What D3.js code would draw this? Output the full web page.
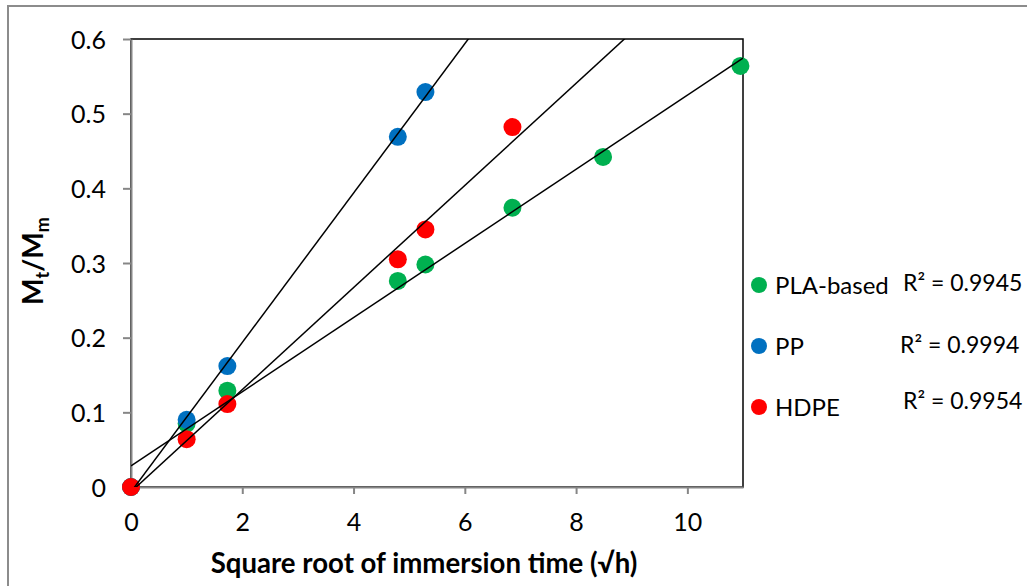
<!DOCTYPE html>
<html>
<head>
<meta charset="utf-8">
<script src="https://cdn.jsdelivr.net/npm/d3@7"></script>
<style>
  html, body { margin: 0; padding: 0; background: #fff; }
  svg { display: block; font-family: Lato, "Open Sans", sans-serif; }
</style>
</head>
<body>
<svg id="chart" width="1027" height="586"></svg>
<script>
// Sorption data: fraction of equilibrium uptake vs square root of immersion time
const seriesNames = ["PLA-based", "PP", "HDPE"];
const seriesColors = ["#00B050", "#0070C0", "#FF0000"];
const rSquaredLabels = ["R² = 0.9945", "R² = 0.9994", "R² = 0.9954"];

const plaX = [0, 1, 1.732, 4.796, 5.292, 6.856, 8.485, 10.954];
const plaY = [0, 0.085, 0.129, 0.276, 0.298, 0.374, 0.442, 0.564];

const ppX = [0, 1, 1.732, 4.796, 5.292];
const ppY = [0, 0.090, 0.162, 0.469, 0.529];

const hdpeX = [0, 1, 1.732, 4.796, 5.292, 6.856];
const hdpeY = [0, 0.064, 0.111, 0.305, 0.345, 0.482];

const xTicks = [0, 2, 4, 6, 8, 10];
const yTicks = [0, 0.1, 0.2, 0.3, 0.4, 0.5, 0.6];

const series = [
  { name: seriesNames[0], color: seriesColors[0], r2: rSquaredLabels[0], xs: plaX, ys: plaY },
  { name: seriesNames[1], color: seriesColors[1], r2: rSquaredLabels[1], xs: ppX, ys: ppY },
  { name: seriesNames[2], color: seriesColors[2], r2: rSquaredLabels[2], xs: hdpeX, ys: hdpeY }
];

const svg = d3.select("#chart");
const plot = { left: 131, right: 743, top: 39, bottom: 487 };

const x = d3.scaleLinear().domain([0, 11]).range([plot.left, plot.right]);
const y = d3.scaleLinear().domain([0, 0.6]).range([plot.bottom, plot.top]);

// Outer chart frame
svg.append("rect")
  .attr("x", 8).attr("y", 6)
  .attr("width", 1100).attr("height", 700)
  .attr("fill", "none")
  .attr("stroke", "#8c8c8c")
  .attr("stroke-width", 2);

// Plot area border
svg.append("rect")
  .attr("x", plot.left).attr("y", plot.top)
  .attr("width", plot.right - plot.left)
  .attr("height", plot.bottom - plot.top)
  .attr("fill", "none")
  .attr("stroke", "#000")
  .attr("stroke-width", 1.5);

svg.append("clipPath").attr("id", "plotClip")
  .append("rect")
  .attr("x", plot.left).attr("y", plot.top)
  .attr("width", plot.right - plot.left)
  .attr("height", plot.bottom - plot.top);

// Axes
const yAxis = d3.axisLeft(y)
  .tickValues(yTicks)
  .tickSize(8)
  .tickPadding(17)
  .tickFormat(d => d === 0 ? "0" : d3.format(".1f")(d));

const xAxis = d3.axisBottom(x)
  .tickValues(xTicks)
  .tickSize(7)
  .tickPadding(19)
  .tickFormat(d3.format("d"));

function styleAxis(g) {
  g.select(".domain").attr("stroke", "#868686").attr("stroke-width", 2);
  g.selectAll(".tick line").attr("stroke", "#868686").attr("stroke-width", 2);
  g.selectAll(".tick text")
    .attr("fill", "#000")
    .style("font-size", "25px")
    .style("font-family", "Lato, 'Open Sans', sans-serif");
}

svg.append("g")
  .attr("transform", `translate(${plot.left},0)`)
  .call(yAxis.tickSizeOuter(0))
  .call(styleAxis)
  .call(g => g.selectAll(".tick text").attr("dy", "0.36em"));

svg.append("g")
  .attr("transform", `translate(0,${plot.bottom})`)
  .call(xAxis.tickSizeOuter(0))
  .call(styleAxis)
  .call(g => g.selectAll(".tick text").attr("dy", "0.72em"));

// Markers (PLA first, HDPE drawn on top)
series.forEach(s => {
  svg.append("g")
    .selectAll("circle")
    .data(s.xs.map((v, i) => [v, s.ys[i]]))
    .join("circle")
    .attr("cx", d => x(d[0]))
    .attr("cy", d => y(d[1]))
    .attr("r", 9)
    .attr("fill", s.color);
});

// Least-squares linear trendlines, projected forward and clipped to the plot area
function linearFit(xs, ys) {
  const n = xs.length;
  const mx = d3.mean(xs), my = d3.mean(ys);
  let sxy = 0, sxx = 0;
  for (let i = 0; i < n; i++) {
    sxy += (xs[i] - mx) * (ys[i] - my);
    sxx += (xs[i] - mx) * (xs[i] - mx);
  }
  const slope = sxy / sxx;
  return { slope, intercept: my - slope * mx };
}

const trend = svg.append("g").attr("clip-path", "url(#plotClip)");
series.forEach(s => {
  const fit = linearFit(s.xs, s.ys);
  const x0 = d3.min(s.xs), x1 = x.domain()[1];
  trend.append("line")
    .attr("x1", x(x0)).attr("y1", y(fit.slope * x0 + fit.intercept))
    .attr("x2", x(x1)).attr("y2", y(fit.slope * x1 + fit.intercept))
    .attr("stroke", "#000")
    .attr("stroke-width", 1.5);
});

// Axis titles
svg.append("text")
  .attr("x", 424).attr("y", 573)
  .attr("text-anchor", "middle")
  .style("font-size", "27.6px")
  .style("font-weight", "bold")
  .text("Square root of immersion time (√h)");

const yTitle = svg.append("text")
  .attr("transform", "translate(43,261) rotate(-90)")
  .attr("text-anchor", "middle")
  .style("font-size", "28px")
  .style("font-weight", "bold");
yTitle.append("tspan").text("M");
yTitle.append("tspan").attr("dy", 6).style("font-size", "18px").text("t");
yTitle.append("tspan").attr("dy", -6).text("/M");
yTitle.append("tspan").attr("dy", 6).style("font-size", "18px").text("m");

// Legend with R² values
const legendY = [285, 346, 407];
const r2X = [903, 900, 903];
const r2Dy = [-2.5, -1.5, -6.5];
series.forEach((s, i) => {
  const g = svg.append("g");
  g.append("circle")
    .attr("cx", 759).attr("cy", legendY[i])
    .attr("r", 8)
    .attr("fill", s.color);
  g.append("text")
    .attr("x", 775).attr("y", legendY[i] + 8.5)
    .style("font-size", "24px")
    .text(s.name);
  g.append("text")
    .attr("x", r2X[i]).attr("y", legendY[i] + 8 + r2Dy[i])
    .style("font-size", "23px")
    .text(s.r2);
});
</script>
</body>
</html>
